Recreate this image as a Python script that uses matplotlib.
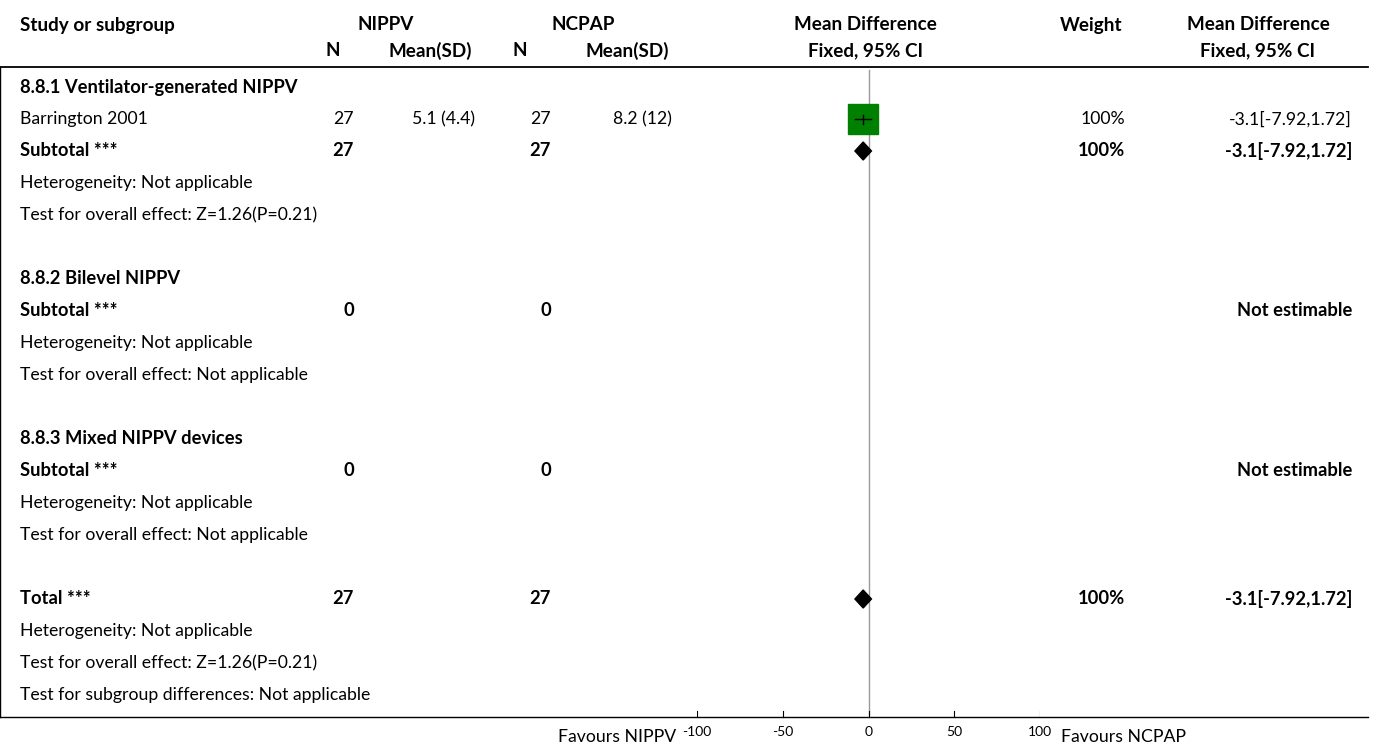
import matplotlib.pyplot as plt
from matplotlib.patches import Polygon

plt.rcParams['font.family'] = ['Lato', 'DejaVu Sans']

# table data
labels = ["8.8.1 Ventilator-generated NIPPV", "Barrington 2001", "Subtotal ***",
          "Heterogeneity: Not applicable", "Test for overall effect: Z=1.26(P=0.21)", "",
          "8.8.2 Bilevel NIPPV", "Subtotal ***", "Heterogeneity: Not applicable",
          "Test for overall effect: Not applicable", "",
          "8.8.3 Mixed NIPPV devices", "Subtotal ***", "Heterogeneity: Not applicable",
          "Test for overall effect: Not applicable", "",
          "Total ***", "Heterogeneity: Not applicable",
          "Test for overall effect: Z=1.26(P=0.21)",
          "Test for subgroup differences: Not applicable"]
bold_rows = [0, 2, 6, 7, 11, 12, 16]
n_nippv = {1: "27", 2: "27", 7: "0", 12: "0", 16: "27"}
mean_nippv = {1: "5.1 (4.4)"}
n_ncpap = {1: "27", 2: "27", 7: "0", 12: "0", 16: "27"}
mean_ncpap = {1: "8.2 (12)"}
weights = {1: "100%", 2: "100%", 16: "100%"}
effects = {1: "-3.1[-7.92,1.72]", 2: "-3.1[-7.92,1.72]", 7: "Not estimable",
           12: "Not estimable", 16: "-3.1[-7.92,1.72]"}

# forest marks
study_rows = [1]
study_md = [-3.1]
study_lo = [-7.92]
study_hi = [1.72]
pooled_rows = [2, 16]
pooled_md = [-3.1, -3.1]
pooled_lo = [-7.92, -7.92]
pooled_hi = [1.72, 1.72]
ticks = [-100, -50, 0, 50, 100]

W, H = 1375, 743
fig = plt.figure(figsize=(W / 100, H / 100), dpi=100)
ax = fig.add_axes([0, 0, 1, 1])
ax.set_xlim(0, W)
ax.set_ylim(H, 0)
ax.axis('off')

fs = 12.7
fsb = 13.2
def row_y(i):
    return 87 + 32 * i

# headers
hdr = dict(fontsize=13.6, fontweight='bold', va='center')
ax.text(20, 25, "Study or subgroup", ha='left', **hdr)
ax.text(386, 25, "NIPPV", ha='center', **hdr)
ax.text(583, 25, "NCPAP", ha='center', **hdr)
ax.text(865, 25, "Mean Difference", ha='center', **hdr)
ax.text(1091, 25, "Weight", ha='center', **hdr)
ax.text(1258, 25, "Mean Difference", ha='center', **hdr)
ax.text(333, 51, "N", ha='center', **hdr)
ax.text(430, 51, "Mean(SD)", ha='center', **hdr)
ax.text(520, 51, "N", ha='center', **hdr)
ax.text(627, 51, "Mean(SD)", ha='center', **hdr)
ax.text(866, 51, "Fixed, 95% CI", ha='center', **hdr)
ax.text(1258, 51, "Fixed, 95% CI", ha='center', **hdr)

ax.plot([0, 1368], [67, 67], color='black', lw=1.3)
ax.plot([0, 1368], [717, 717], color='black', lw=1.0)
ax.plot([0, 0], [67, 717], color='black', lw=1.0)

for i, lab in enumerate(labels):
    y = row_y(i)
    b = i in bold_rows
    kw = dict(va='center', fontsize=fsb if b else fs, fontweight='bold' if b else 'normal')
    ax.text(20, y, lab, ha='left', **kw)
    for col, xr in ((n_nippv, 354), (mean_nippv, 475), (n_ncpap, 551),
                    (mean_ncpap, 672), (weights, 1125), (effects, 1352)):
        if i in col:
            ax.text(xr, y, col[i], ha='right', **kw)

# forest axes: -100 at x=697, 100 at x=1040
x0, x1 = 697, 1040
fx = fig.add_axes([x0 / W, 0, (x1 - x0) / W, 1])
fx.set_xlim(-100, 100)
fx.set_ylim(H, 0)
fx.axis('off')
fx.patch.set_alpha(0)

fx.plot([0, 0], [70, 717], color='#999999', lw=1.0, zorder=1)
for t in ticks:
    fx.plot([t, t], [711, 717], color='black', lw=0.8)
    fx.text(t, 732, str(t), ha='center', va='center', fontsize=10)
fx.text(-112, 737, "Favours NIPPV", ha='right', va='center', fontsize=fs, clip_on=False)
fx.text(112, 737, "Favours NCPAP", ha='left', va='center', fontsize=fs, clip_on=False)

for r, md, lo, hi in zip(study_rows, study_md, study_lo, study_hi):
    y = row_y(r)
    fx.plot([md], [y], marker='s', ms=22, color='#008000', mec='#008000', zorder=3)
    fx.plot([lo, hi], [y, y], color='black', lw=1.0, zorder=4)
    fx.plot([md, md], [y - 4.5, y + 4.5], color='black', lw=1.0, zorder=4)

for r, md, lo, hi in zip(pooled_rows, pooled_md, pooled_lo, pooled_hi):
    y = row_y(r)
    fx.add_patch(Polygon([(lo, y), (md, y - 9), (hi, y), (md, y + 9)],
                         closed=True, color='black', zorder=4))

fig.savefig('out.png', dpi=100)
